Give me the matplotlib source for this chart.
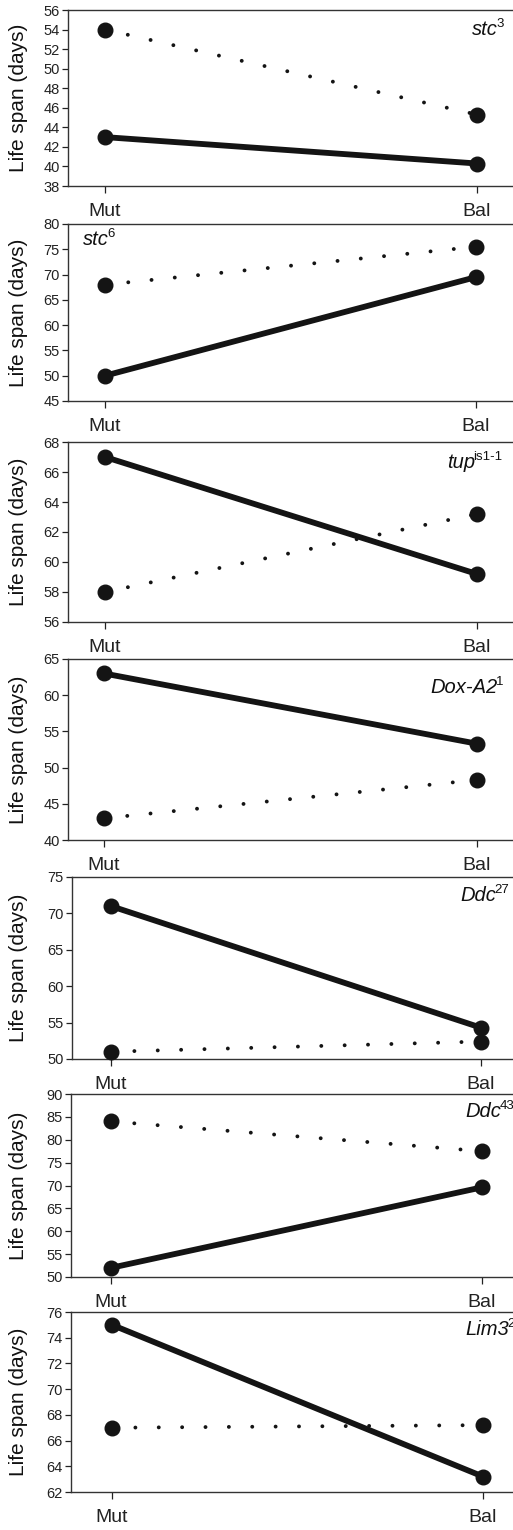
import matplotlib
matplotlib.use('Agg')
import matplotlib.pyplot as plt
from matplotlib.ticker import MultipleLocator

plt.rcParams['font.family'] = ['Liberation Sans', 'DejaVu Sans']

# ---- data ----
groups = ['Mut', 'Bal']
genes = ['stc', 'stc', 'tup', 'Dox-A2', 'Ddc', 'Ddc', 'Lim3']
alleles = ['3', '6', 'is1-1', '1', '27', '43', '2']
solid_vals = [[43, 40.3], [50, 69.5], [67, 59.2], [63, 53.3],
              [71, 54.3], [52, 69.6], [75, 63.2]]
dotted_vals = [[54, 45.3], [68, 75.5], [58, 63.2], [43, 48.3],
               [51, 52.4], [84, 77.5], [67, 67.2]]
y_min = [38, 45, 56, 40, 50, 50, 62]
y_max = [56, 80, 68, 65, 75, 90, 76]
y_step = [2, 5, 2, 5, 5, 5, 2]

# ---- layout (pixels) ----
W, H = 513, 1530
# left, top, bottom, x of Mut, x of Bal
layout = [
    (68, 10, 186, 105, 477),
    (68, 224, 401, 105, 476),
    (68, 442, 622, 105, 477),
    (68, 659, 840, 104, 477),
    (72, 877, 1059, 111, 481),
    (71, 1094, 1277, 111, 482),
    (71, 1312, 1492, 112, 483),
]
# gene label left x, baseline y
label_pos = [(472, 35), (83, 245), (447, 468), (430, 693),
             (460, 901), (465, 1117), (465, 1335)]

dark = '#141414'
fig = plt.figure(figsize=(W / 100, H / 100), dpi=100)

for i in range(7):
    L, T, B, xm, xb = layout[i]
    ax = fig.add_axes([L / W, 1 - B / H, (W - L) / W, (B - T) / H])
    xs = list(range(len(groups)))
    span = xb - xm
    ax.set_xlim(-(xm - L) / span, (W - xm) / span)
    ax.set_ylim(y_min[i], y_max[i])

    # dotted series
    ax.plot(xs, dotted_vals[i], linestyle=(0, (0.01, 6.0)), lw=2.8,
            dash_capstyle='round', color=dark, zorder=2, clip_on=False)
    ax.plot(xs, dotted_vals[i], 'o', ms=10.5, color=dark, zorder=3,
            clip_on=False)
    # solid series
    ax.plot(xs, solid_vals[i], '-', lw=4.2, color=dark, zorder=2,
            solid_capstyle='butt', clip_on=False)
    ax.plot(xs, solid_vals[i], 'o', ms=10.5, color=dark, zorder=3,
            clip_on=False)

    ax.yaxis.set_major_locator(MultipleLocator(y_step[i]))
    ax.set_xticks(xs)
    ax.set_xticklabels(groups, fontsize=14)
    ax.tick_params(axis='y', direction='out', length=4, width=0.9,
                   labelsize=10.5, pad=2, colors='#222222')
    ax.tick_params(axis='x', direction='out', length=5, width=0.9,
                   pad=7, colors='#222222')
    for s in ['left', 'bottom', 'top']:
        ax.spines[s].set_color('#333333')
        ax.spines[s].set_linewidth(1.0)
    ax.spines['right'].set_visible(False)

    ax.set_ylabel('Life span (days)', fontsize=15, color='#111111')
    ax.yaxis.set_label_coords((28 - L) / (W - L), 0.5)

    lx, ly = label_pos[i]
    t = fig.text(lx / W, 1 - ly / H, genes[i], fontsize=14.5, style='italic',
                 ha='left', va='baseline', color='#111111')
    fig.canvas.draw()
    ax.annotate(alleles[i], xy=(1, 1), xycoords=t, xytext=(-1.2, 1.5),
                textcoords='offset points', ha='left', va='top',
                fontsize=9.5, color='#111111')

fig.savefig('out.png', dpi=100)
